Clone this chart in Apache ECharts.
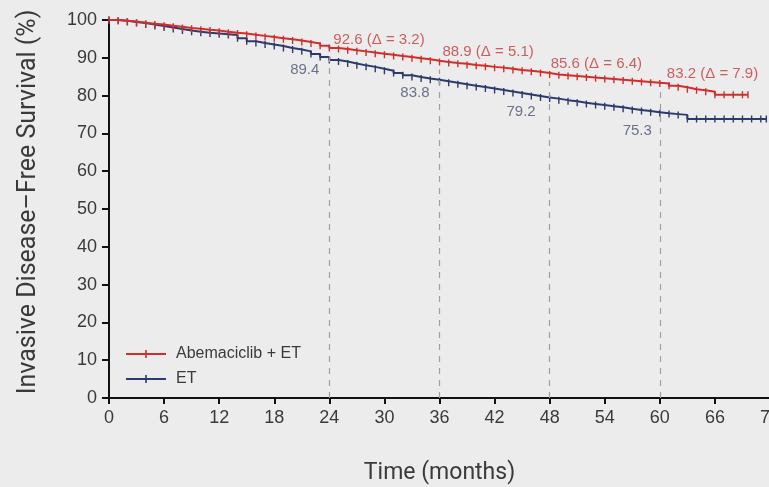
<!DOCTYPE html>
<html>
<head>
<meta charset="utf-8">
<script src="https://cdn.jsdelivr.net/npm/echarts@6/dist/echarts.min.js"></script>
<style>
html,body{margin:0;padding:0;background:#ececec;}
#chart{width:769px;height:487px;}
</style>
</head>
<body>
<div id="chart"></div>
<script>
// KM curves (months, survival %)
var redTimes = [0,1,2,3,4,5,6,7,8,9,10,11,12,13,14,15,16,17,18,19,20,21,22,23,24,25,26,27,28,29,30,31,32,33,34,35,36,37,38,39,40,41,42,43,44,45,46,47,48,49,50,51,52,53,54,55,56,57,58,59,60,61,62,63,64,65,66,67,68,69,69.6];
var redSurv  = [100,99.8,99.6,99.3,99.0,98.8,98.5,98.2,97.9,97.7,97.4,97.2,96.9,96.6,96.4,96.1,95.8,95.5,95.2,94.9,94.6,94.2,93.8,93.2,92.6,92.3,92.0,91.7,91.4,91.1,90.8,90.5,90.2,89.9,89.6,89.2,88.9,88.6,88.4,88.1,87.9,87.6,87.4,87.1,86.8,86.6,86.3,86.0,85.6,85.4,85.2,85.0,84.8,84.6,84.4,84.2,84.0,83.8,83.6,83.4,83.2,82.6,82.2,81.7,81.4,81.0,80.2,80.2,80.2,80.2,80.2];
var blueTimes = [0,1,2,3,4,5,6,7,8,9,10,11,12,13,14,15,16,17,18,19,20,21,22,23,24,25,26,27,28,29,30,31,32,33,34,35,36,37,38,39,40,41,42,43,44,45,46,47,48,49,50,51,52,53,54,55,56,57,58,59,60,61,62,63,64,65,66,67,68,69,70,71,71.6];
var blueSurv  = [100,99.8,99.5,99.2,98.8,98.4,98.0,97.6,97.2,96.9,96.6,96.4,96.2,96.0,95.2,94.4,93.9,93.5,93.1,92.6,92.2,91.7,91.0,90.2,89.4,89.0,88.5,88.0,87.6,87.1,86.6,86.0,85.4,84.9,84.5,84.2,83.8,83.4,83.0,82.6,82.3,81.9,81.5,81.1,80.7,80.3,79.9,79.5,79.2,78.8,78.5,78.1,77.8,77.5,77.2,76.9,76.5,76.2,75.9,75.6,75.3,75.1,74.9,73.8,73.8,73.8,73.8,73.8,73.8,73.8,73.8,73.8,73.8];

// landmark annotations
var landmarks = [24, 36, 48, 60];
var redAt = [92.6, 88.9, 85.6, 83.2];
var blueAt = [89.4, 83.8, 79.2, 75.3];
var deltas = [3.2, 5.1, 6.4, 7.9];

var xTicks = [0, 6, 12, 18, 24, 30, 36, 42, 48, 54, 60, 66, 72];

var seriesNames = ['Abemaciclib + ET', 'ET'];
var redColor = '#cf2f2c';
var blueColor = '#2d3b6c';

// label offsets (layout only)
var redOffsets = [[4, -8], [3, -10], [1, -11], [7, -10]];
var blueOffsets = [[-10, 10], [-10, 12], [-14, 13], [-8, 17]];

function pairs(t, s) {
    var out = [];
    for (var i = 0; i < t.length; i++) out.push([t[i], s[i]]);
    return out;
}

// censor tick: thin vertical bar inside a square box (corner specks keep the box square)
var tick = 'path://M0,0 L0.01,0 L0.01,0.01 Z M10,10 L9.99,10 L9.99,9.99 Z M4,0 L6,0 L6,10 L4,10 Z';

var chart = echarts.init(document.getElementById('chart'));

var dashLines = [];
for (var i = 0; i < landmarks.length; i++) {
    dashLines.push([{coord: [landmarks[i], 0]}, {coord: [landmarks[i], redAt[i] - 2]}]);
}

var redLabels = [], blueLabels = [];
for (var j = 0; j < landmarks.length; j++) {
    redLabels.push({
        value: [landmarks[j], redAt[j]],
        label: {offset: redOffsets[j]},
        name: redAt[j].toFixed(1) + ' (\u0394 = ' + deltas[j].toFixed(1) + ')'
    });
    blueLabels.push({
        value: [landmarks[j], blueAt[j]],
        label: {offset: blueOffsets[j]},
        name: blueAt[j].toFixed(1)
    });
}

var option = {
    backgroundColor: '#ececec',
    animation: false,
    grid: {left: 109, right: -1, top: 20, bottom: 89, containLabel: false, outerBoundsMode: 'none'},
    legend: {
        data: seriesNames,
        orient: 'vertical',
        left: 125,
        top: 346,
        padding: 0,
        itemWidth: 40,
        itemHeight: 10,
        itemGap: 9,
        textStyle: {fontFamily: 'Liberation Sans', fontSize: 16, color: '#3a3a3a', padding: [0, 0, 0, 5]}
    },
    xAxis: {
        type: 'value',
        min: 0,
        max: 72,
        interval: 6,
        name: 'Time (months)',
        nameLocation: 'middle',
        nameGap: 64,
        nameTextStyle: {fontFamily: 'Roboto', fontSize: 23, color: '#3a3a3a'},
        axisLine: {lineStyle: {color: '#111', width: 2}},
        axisTick: {length: 6, lineStyle: {color: '#111', width: 2}},
        axisLabel: {
            fontFamily: 'Liberation Sans', fontSize: 18, color: '#3a3a3a', margin: 11,
            formatter: function (v) { return xTicks.indexOf(v) >= 0 ? String(v) : ''; }
        },
        splitLine: {show: false}
    },
    yAxis: {
        type: 'value',
        min: 0,
        max: 100,
        interval: 10,
        name: 'Invasive Disease\u2013Free Survival (%)',
        nameLocation: 'middle',
        nameGap: 68,
        nameTextStyle: {fontFamily: 'Roboto', fontSize: 25, color: '#3a3a3a', padding: [0, 0, 0, 14]},
        axisLine: {lineStyle: {color: '#111', width: 2}},
        axisTick: {length: 7, lineStyle: {color: '#111', width: 2}},
        axisLabel: {fontFamily: 'Liberation Sans', fontSize: 18, color: '#3a3a3a', margin: 12},
        splitLine: {show: false}
    },
    series: [
        {
            name: seriesNames[0],
            type: 'line',
            step: 'end',
            data: pairs(redTimes, redSurv),
            color: redColor,
            lineStyle: {width: 2},
            symbol: tick,
            symbolSize: 7,
            showAllSymbol: true,
            z: 4,
            markLine: {
                silent: true,
                symbol: 'none',
                label: {show: false},
                lineStyle: {color: '#a0a0a0', type: [6, 6], width: 1.2},
                data: dashLines
            }
        },
        {
            name: seriesNames[1],
            type: 'line',
            step: 'end',
            data: pairs(blueTimes, blueSurv),
            color: blueColor,
            lineStyle: {width: 2},
            symbol: tick,
            symbolSize: 7,
            showAllSymbol: true,
            z: 3
        },
        {
            type: 'scatter',
            symbolSize: 0,
            silent: true,
            z: 6,
            data: redLabels,
            label: {
                show: true, position: 'right', distance: 0,
                formatter: function (p) { return p.name; },
                fontFamily: 'Liberation Sans', fontSize: 15, color: '#c23b3b'
            }
        },
        {
            type: 'scatter',
            symbolSize: 0,
            silent: true,
            z: 6,
            data: blueLabels,
            label: {
                show: true, position: 'left', distance: 0,
                formatter: function (p) { return p.name; },
                fontFamily: 'Liberation Sans', fontSize: 15, color: '#4a5370'
            }
        }
    ]
};
chart.setOption(option);
</script>
</body>
</html>
